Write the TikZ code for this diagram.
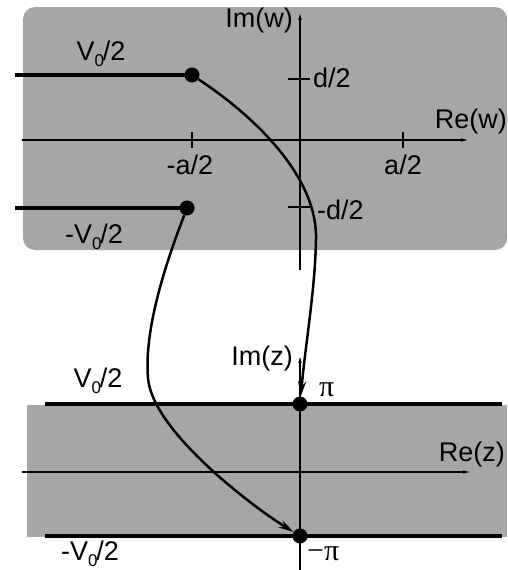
\documentclass[tikz,border=0pt]{standalone}
\usepackage{fontspec}
\setmainfont{Liberation Sans}
\newfontfamily\serifpi{Liberation Serif}
\usetikzlibrary{arrows.meta}
\definecolor{planegray}{RGB}{166,166,166}
\tikzset{
  plane/.style={fill=planegray, draw=none},
  axis/.style={line width=1.2pt, -{Stealth[length=6pt,width=3.5pt]}},
  tick/.style={line width=1.2pt},
  electrode/.style={line width=4pt},
  dot/.style={circle, fill=black, inner sep=0pt, minimum size=15pt},
  mapcurve/.style={line width=2.5pt, -{Stealth[length=15pt,width=8pt]}},
  lbl/.style={font=\fontsize{27}{29}\selectfont, inner sep=1pt},
  pilbl/.style={font=\fontsize{30}{32}\selectfont\serifpi, inner sep=1pt},
}
\newcommand{\Vnull}{V\raisebox{-0.4ex}{\fontsize{17}{17}\selectfont 0}\kern-1pt/2}
\begin{document}
\begin{tikzpicture}[x=1pt,y=-1pt]
\useasboundingbox (0,0) rectangle (507,570);
% top w-plane
\fill[planegray, rounded corners=12pt] (23,7) rectangle (507,250);
\draw[axis] (22,140) -- (467,140);
\draw[axis] (300,270) -- (300,14);
\draw[tick] (192,132) -- (192,148);
\draw[tick] (403,132) -- (403,148);
\draw[tick] (288,79) -- (310,79);
\draw[tick] (288,207) -- (310,207);
\node[lbl] (ma) at (190,165) {-a/2};
\node[lbl] (pa) at (403,165) {a/2};
\node[lbl, anchor=west] (pd) at (312,78) {d/2};
\node[lbl, anchor=west] (md) at (316,210) {-d/2};
\node[lbl, anchor=east] (imw) at (294,21) {Im(w)};
\node[lbl, anchor=east] (rew) at (508,122) {Re(w)};
\node[dot] (w1) at (192,75) {};
\node[dot] (w2) at (187,208) {};
\coordinate (e1) at (15,75);
\coordinate (e2) at (15,208);
\draw[electrode] (e1) -- (w1.center);
\draw[electrode] (e2) -- (w2.center);
\node[lbl] (v1) at (101,54) {\Vnull};
\node[lbl] (v2) at (94,237) {-\Vnull};
% bottom z-plane
\fill[planegray] (27,405) rectangle (507,537);
\draw[axis] (22,472) -- (469,472);
\draw[axis] (300,570) -- (300,357);
\node[dot] (z1) at (300,404) {};
\node[dot] (z2) at (300,536) {};
\coordinate (f1a) at (45,404);
\coordinate (f1b) at (502,404);
\coordinate (f2a) at (45,536);
\coordinate (f2b) at (502,536);
\draw[electrode] (f1a) -- (f1b);
\draw[electrode] (f2a) -- (f2b);
\node[lbl, anchor=east] (imz) at (294,359) {Im(z)};
\node[lbl, anchor=east] (rez) at (506,455) {Re(z)};
\node[pilbl, anchor=west] (pi) at (318,390) {π};
\node[pilbl, anchor=west] (mpi) at (306,554) {−π};
\node[lbl] (v3) at (98,381) {\Vnull};
\node[lbl] (v4) at (90,554) {-\Vnull};
% mapping curves
\draw[mapcurve] (w1) .. controls (260,120) and (318,180) .. (316,240) .. controls (315,290) and (306,340) .. (z1);
\draw[mapcurve] (w2) .. controls (165,265) and (144,330) .. (148,378) .. controls (152,430) and (250,505) .. (z2);
\end{tikzpicture}
\end{document}
